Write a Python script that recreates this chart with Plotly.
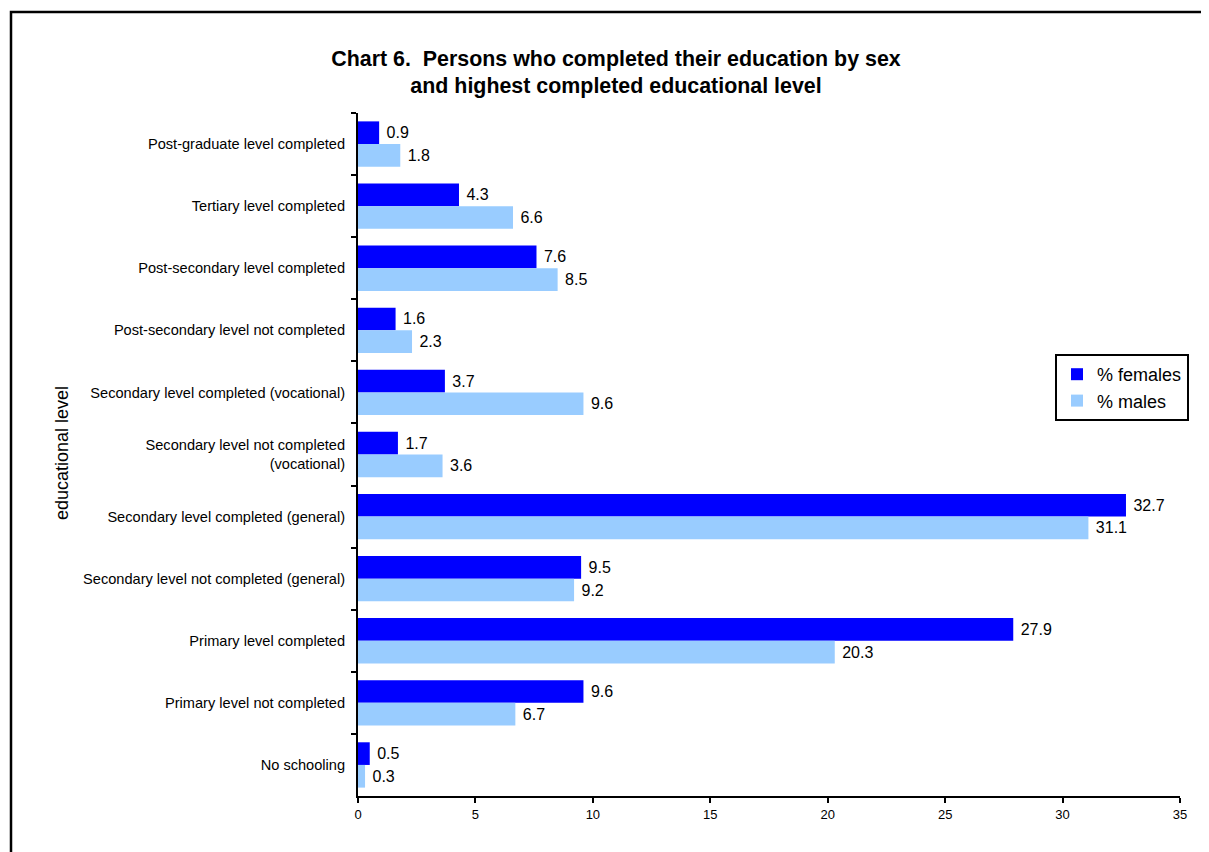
import plotly.graph_objects as go

categories = [
    "Post-graduate level completed",
    "Tertiary level completed",
    "Post-secondary level completed",
    "Post-secondary level not completed",
    "Secondary level completed (vocational)",
    "Secondary level not completed<br>(vocational)",
    "Secondary level completed (general)",
    "Secondary level not completed (general)",
    "Primary level completed",
    "Primary level not completed",
    "No schooling",
]
females = [0.9, 4.3, 7.6, 1.6, 3.7, 1.7, 32.7, 9.5, 27.9, 9.6, 0.5]
males = [1.8, 6.6, 8.5, 2.3, 9.6, 3.6, 31.1, 9.2, 20.3, 6.7, 0.3]
x_ticks = [0, 5, 10, 15, 20, 25, 30, 35]

FONT = "Liberation Sans, Arial, sans-serif"

fig = go.Figure()
fig.add_trace(go.Bar(
    y=categories, x=females, orientation="h", name="% females",
    marker=dict(color="#0000FF", line=dict(width=0)),
    texttemplate=" %{x:.1f}", textposition="outside",
    textfont=dict(size=16, color="black", family=FONT), cliponaxis=False,
))
fig.add_trace(go.Bar(
    y=categories, x=males, orientation="h", name="% males",
    marker=dict(color="#99CCFF", line=dict(width=0)),
    texttemplate=" %{x:.1f}", textposition="outside",
    textfont=dict(size=16, color="black", family=FONT), cliponaxis=False,
))

# page body has an 8px margin, so the figure is sized to fit the window
W, H = 1201, 844
L, R, T, B = 350, 29, 105, 56
pw = W - L - R
ph = H - T - B

fig.update_layout(
    width=W, height=H,
    margin=dict(l=L, r=R, t=T, b=B, pad=0),
    paper_bgcolor="white", plot_bgcolor="white",
    barmode="group", bargap=0.27, bargroupgap=0,
    font=dict(family=FONT, color="black", size=13),
    title=dict(
        text="<b>Chart 6.  Persons who completed their education by sex<br>and highest completed educational level</b>",
        x=608 / W, xref="container", xanchor="center",
        y=1 - 57.5 / H, yref="container", yanchor="middle",
        font=dict(size=21.4, family=FONT, color="black"),
    ),
    xaxis=dict(
        range=[0, 35], tickvals=x_ticks, showgrid=False, zeroline=False,
        showline=True, linecolor="black", linewidth=2,
        ticks="outside", ticklen=5, tickwidth=2, tickcolor="black",
        tickfont=dict(size=13, family=FONT),
    ),
    yaxis=dict(
        autorange="reversed", showgrid=False, zeroline=False,
        showline=True, linecolor="black", linewidth=2,
        ticks="outside", ticklen=5, tickwidth=2, tickcolor="black",
        tickson="boundaries", tickfont=dict(size=14.6, family=FONT),
        ticklabelstandoff=8,
    ),
    legend=dict(
        x=(1047 - L) / pw, y=(H - B - 346) / ph, xanchor="left", yanchor="top",
        bordercolor="black", borderwidth=2, bgcolor="white",
        font=dict(size=18, family=FONT), itemwidth=30,
    ),
    showlegend=True,
    annotations=[dict(
        text="educational level", textangle=-90, showarrow=False,
        xref="paper", yref="paper", x=(54 - L) / pw, y=(H - B - 445) / ph,
        xanchor="center", yanchor="middle", font=dict(size=18, family=FONT),
    )],
    shapes=[dict(
        type="rect", xref="paper", yref="paper",
        x0=(3 - L) / pw, x1=(1260 - L) / pw,
        y0=(H - B - 900) / ph, y1=(H - B - 4) / ph,
        line=dict(color="black", width=2.5), fillcolor="rgba(0,0,0,0)", layer="below",
    )],
)

fig.write_html("out.html")
